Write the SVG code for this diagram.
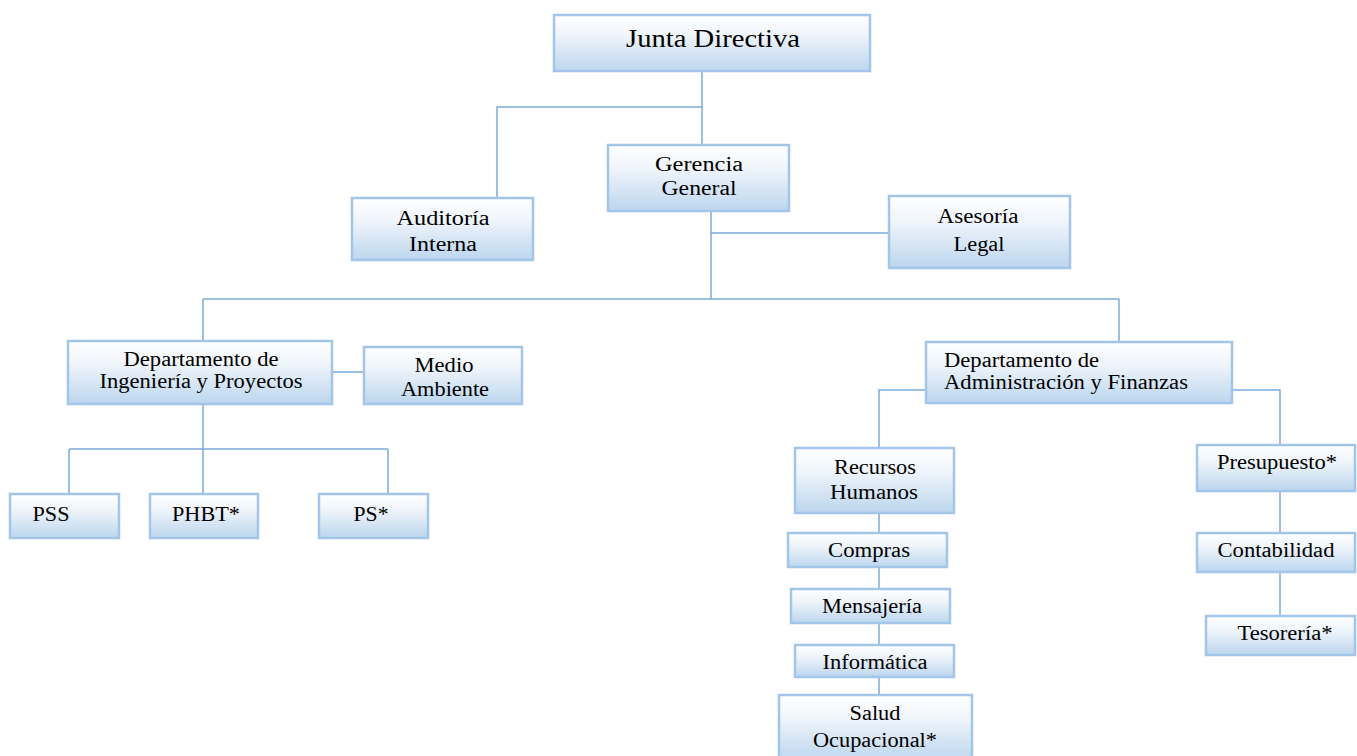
<svg xmlns="http://www.w3.org/2000/svg" width="1357" height="756" viewBox="0 0 1357 756">
<defs>
<linearGradient id="g" x1="0" y1="0" x2="0" y2="1">
<stop offset="0" stop-color="#ffffff"/>
<stop offset="0.35" stop-color="#f0f5fb"/>
<stop offset="1" stop-color="#bcd6ee"/>
</linearGradient>
</defs>
<style>
.box{fill:url(#g);stroke:#a3c6e8;stroke-width:2.5}
.c{fill:none;stroke:#7fabdb;stroke-width:1.5}
text{font-family:"Liberation Serif","Times New Roman",serif;font-size:20px;fill:#000;text-anchor:middle}
.l{text-anchor:start}
</style>
<rect width="1357" height="756" fill="#ffffff"/>
<g id="connectors">
<path class="c" d="M702 71V145M702 107H497V198M711 211V299M711 233H889M203 299H1119M203 299V341M1119 299V342M332 372H364M203 404V449M69 449H388M69 449V494M203 449V494M388 449V494M926 390H879V448M1232 390H1280V445M879 513V695M1280 491V616"/>
</g>
<g id="junta"><rect class="box" x="554" y="15" width="316" height="56"/><text x="713" y="47" style="font-size:25px" textLength="174" lengthAdjust="spacingAndGlyphs">Junta Directiva</text></g>
<g id="gerencia"><rect class="box" x="608" y="145" width="181" height="66"/><text x="699" y="171" textLength="88" lengthAdjust="spacingAndGlyphs">Gerencia</text><text x="699" y="195" textLength="75" lengthAdjust="spacingAndGlyphs">General</text></g>
<g id="auditoria"><rect class="box" x="352" y="198" width="181" height="62"/><text x="443" y="225" textLength="93" lengthAdjust="spacingAndGlyphs">Auditoría</text><text x="443" y="251" textLength="68" lengthAdjust="spacingAndGlyphs">Interna</text></g>
<g id="asesoria"><rect class="box" x="889" y="196" width="181" height="72"/><text x="978" y="223" textLength="81" lengthAdjust="spacingAndGlyphs">Asesoría</text><text x="979" y="251" textLength="51" lengthAdjust="spacingAndGlyphs">Legal</text></g>
<g id="depto-ing"><rect class="box" x="68" y="341" width="264" height="63"/><text x="201" y="366" textLength="155" lengthAdjust="spacingAndGlyphs">Departamento de</text><text x="201" y="388" textLength="203" lengthAdjust="spacingAndGlyphs">Ingeniería y Proyectos</text></g>
<g id="medio"><rect class="box" x="364" y="347" width="158" height="57"/><text x="444" y="372" textLength="59" lengthAdjust="spacingAndGlyphs">Medio</text><text x="445" y="396" textLength="88" lengthAdjust="spacingAndGlyphs">Ambiente</text></g>
<g id="depto-adm"><rect class="box" x="926" y="342" width="306" height="61"/><text class="l" x="944" y="367" textLength="155" lengthAdjust="spacingAndGlyphs">Departamento de</text><text class="l" x="944" y="389" textLength="244" lengthAdjust="spacingAndGlyphs">Administración y Finanzas</text></g>
<g id="pss"><rect class="box" x="10" y="494" width="109" height="44"/><text x="51" y="521" textLength="37" lengthAdjust="spacingAndGlyphs">PSS</text></g>
<g id="phbt"><rect class="box" x="150" y="494" width="108" height="44"/><text x="206" y="521" textLength="68" lengthAdjust="spacingAndGlyphs">PHBT*</text></g>
<g id="ps"><rect class="box" x="319" y="494" width="109" height="44"/><text x="371" y="521" textLength="35" lengthAdjust="spacingAndGlyphs">PS*</text></g>
<g id="rrhh"><rect class="box" x="795" y="448" width="159" height="65"/><text x="875" y="474" textLength="82" lengthAdjust="spacingAndGlyphs">Recursos</text><text x="874" y="499" textLength="88" lengthAdjust="spacingAndGlyphs">Humanos</text></g>
<g id="compras"><rect class="box" x="788" y="533" width="159" height="34"/><text x="869" y="557" textLength="82" lengthAdjust="spacingAndGlyphs">Compras</text></g>
<g id="mensajeria"><rect class="box" x="791" y="589" width="159" height="34"/><text x="872" y="613" textLength="100" lengthAdjust="spacingAndGlyphs">Mensajería</text></g>
<g id="informatica"><rect class="box" x="795" y="645" width="159" height="32"/><text x="875" y="669" textLength="105" lengthAdjust="spacingAndGlyphs">Informática</text></g>
<g id="salud"><rect class="box" x="779" y="695" width="193" height="66"/><text x="875" y="720" textLength="51" lengthAdjust="spacingAndGlyphs">Salud</text><text x="875" y="747" textLength="124" lengthAdjust="spacingAndGlyphs">Ocupacional*</text></g>
<g id="presupuesto"><rect class="box" x="1197" y="445" width="158" height="46"/><text x="1277" y="469" textLength="120" lengthAdjust="spacingAndGlyphs">Presupuesto*</text></g>
<g id="contabilidad"><rect class="box" x="1197" y="533" width="158" height="39"/><text x="1276" y="557" textLength="117" lengthAdjust="spacingAndGlyphs">Contabilidad</text></g>
<g id="tesoreria"><rect class="box" x="1206" y="616" width="149" height="39"/><text x="1285" y="640" textLength="95" lengthAdjust="spacingAndGlyphs">Tesorería*</text></g>
</svg>
